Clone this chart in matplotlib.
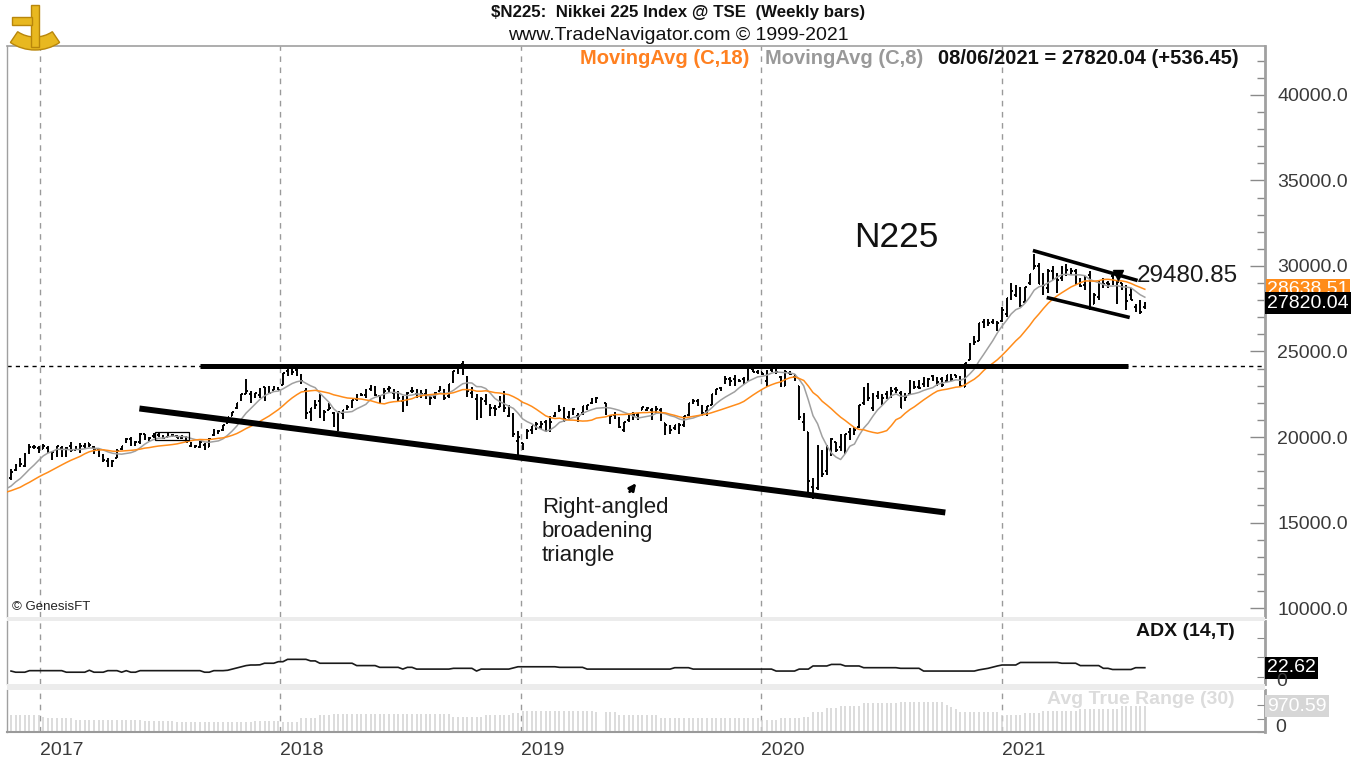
import matplotlib
matplotlib.use("Agg")
import matplotlib.pyplot as plt
import matplotlib.dates as mdates
import matplotlib.transforms as mtransforms
from matplotlib.patches import Rectangle, Wedge
from matplotlib.ticker import MultipleLocator
import pandas as pd
import numpy as np

plt.rcParams['font.family'] = ['Liberation Sans', 'DejaVu Sans']

W, H = 1360, 761

# ---------------- data ----------------
# closes before the first visible bar (Jul 15 - Nov 11 2016), used to seed the moving averages
warmup_close = [16497, 16627, 16569, 16254, 16920, 16546, 16361, 16926, 16965, 16519,
                16754, 16450, 16860, 16856, 17185, 17446, 16905, 17374]

# weekly bars (open, high, low, close)
ohlc_2016 = [
    (17600, 18110, 17480, 17968), (18060, 18450, 17990, 18381), (18390, 18746, 18230, 18427),
    (18280, 19050, 18250, 18997), (19160, 19592, 19000, 19401), (19390, 19520, 19300, 19428),
    (19380, 19470, 19050, 19114),
]
ohlc_2017 = [
    (19298, 19615, 19280, 19454), (19360, 19470, 19040, 19287), (19040, 19200, 18650, 19137),
    (18980, 19470, 18820, 19467), (19380, 19460, 18830, 18918), (18970, 19400, 18810, 19379),
    (19460, 19680, 19140, 19235), (19250, 19450, 19230, 19284), (19280, 19670, 19040, 19469),
    (19480, 19650, 19320, 19605), (19630, 19670, 19400, 19522), (19400, 19460, 19000, 19263),
    (19300, 19340, 18850, 18909), (18920, 18990, 18520, 18665), (18610, 18790, 18220, 18336),
    (18280, 18630, 18220, 18621), (18790, 19290, 18780, 19197), (19280, 19460, 19250, 19446),
    (19800, 19960, 19670, 19884), (19880, 19990, 19450, 19591), (19640, 19750, 19470, 19687),
    (19680, 20240, 19600, 20178), (20150, 20180, 19830, 20013), (19840, 20010, 19780, 19943),
    (20060, 20230, 19960, 20133), (20130, 20240, 19990, 20033), (20050, 20100, 19890, 19930),
    (20000, 20240, 19980, 20119), (20100, 20170, 19990, 20100), (20030, 20120, 19920, 19960),
    (19950, 20130, 19910, 20030), (20020, 20050, 19700, 19730), (19480, 19730, 19420, 19470),
    (19400, 19560, 19340, 19453), (19440, 19740, 19340, 19692), (19550, 19650, 19240, 19275),
    (19430, 19940, 19410, 19910), (20090, 20480, 20030, 20296), (20290, 20400, 20200, 20356),
    (20410, 20710, 20380, 20691), (20820, 21160, 20820, 21155), (21210, 21480, 21200, 21458),
    (21690, 22010, 21640, 22008), (22170, 22540, 22100, 22539), (22540, 23380, 22500, 22681),
    (22540, 22690, 21970, 22397), (22340, 22560, 22300, 22551), (22450, 22870, 22300, 22819),
    (22920, 22940, 22120, 22811), (22940, 22990, 22560, 22553), (22750, 22960, 22740, 22903),
    (22880, 22920, 22750, 22765),
]
ohlc_2018 = [
    (23070, 23730, 23070, 23715), (23850, 23950, 23590, 23654), (23790, 24080, 23600, 23808),
    (23900, 24130, 23580, 23632), (23580, 23710, 23090, 23275), (22700, 22860, 21080, 21383),
    (21470, 21720, 20950, 21720), (21890, 22150, 21640, 21893), (22100, 22500, 21100, 21182),
    (21060, 21600, 20940, 21469), (21600, 21970, 21550, 21677), (21400, 21490, 20600, 20618),
    (20500, 21480, 20350, 21454), (21390, 21600, 21030, 21568), (21700, 21870, 21600, 21779),
    (21750, 22190, 21700, 22163), (22200, 22500, 22090, 22468), (22450, 22550, 22400, 22473),
    (22480, 22800, 22300, 22758), (22830, 23050, 22690, 22930), (22930, 23010, 22400, 22451),
    (22400, 22480, 21930, 22171), (22300, 22880, 22230, 22695), (22800, 22970, 22600, 22852),
    (22600, 22800, 22250, 22517), (22600, 22700, 22130, 22305), (22100, 22400, 21460, 21788),
    (21870, 22620, 21830, 22597), (22700, 22950, 22580, 22698), (22490, 22830, 22300, 22713),
    (22660, 22720, 22300, 22525), (22520, 22800, 22240, 22298), (22000, 22410, 21850, 22270),
    (22320, 22640, 22250, 22602), (22700, 22970, 22690, 22865), (22690, 22790, 22170, 22307),
    (22380, 23120, 22300, 23095), (23250, 23880, 23150, 23870), (23930, 24290, 23700, 24120),
    (24250, 24450, 23600, 23784), (23500, 23590, 22320, 22695), (22570, 22900, 22260, 22532),
    (22250, 22530, 20970, 21185), (21190, 22350, 21090, 22244), (22120, 22500, 21900, 22250),
    (21820, 21940, 21240, 21680), (21710, 21860, 21240, 21647), (21780, 22380, 21730, 22351),
    (22570, 22700, 21470, 21679), (21220, 21880, 21150, 21375), (21350, 21410, 20000, 20166),
    (19790, 20330, 18950, 20015),
]
ohlc_2019 = [
    (19660, 19660, 19240, 19562), (19940, 20490, 19900, 20360), (20400, 20670, 20200, 20666),
    (20700, 20890, 20400, 20774), (20600, 20950, 20460, 20788), (20850, 20980, 20320, 20333),
    (20400, 21200, 20300, 20901), (21200, 21460, 21150, 21426), (21500, 21860, 21450, 21603),
    (21650, 21730, 20900, 21025), (21150, 21530, 21000, 21451), (21500, 21700, 21300, 21627),
    (21200, 21400, 20900, 21206), (21400, 21830, 21300, 21807), (21700, 21900, 21570, 21871),
    (22000, 22300, 21950, 22200), (22250, 22360, 22000, 22259), (22000, 22000, 21260, 21345),
    (21000, 21300, 20750, 21250), (21300, 21450, 21050, 21117), (21000, 21190, 20550, 20601),
    (20400, 20900, 20290, 20885), (21000, 21260, 20900, 21117), (21100, 21490, 20970, 21259),
    (21300, 21400, 20990, 21276), (21600, 21780, 21550, 21746), (21600, 21750, 21500, 21686),
    (21600, 21700, 20990, 21467), (21500, 21820, 21400, 21658), (21600, 21700, 20960, 21088),
    (20800, 20800, 20110, 20685), (20500, 20700, 20180, 20419), (20550, 20730, 20400, 20711),
    (20250, 20800, 20170, 20704), (20700, 21230, 20600, 21200), (21300, 22000, 21250, 21988),
    (22000, 22250, 21950, 22079), (22100, 22200, 21800, 21879), (21700, 21900, 21250, 21410),
    (21500, 21810, 21200, 21799), (21900, 22520, 21900, 22493), (22500, 22820, 22450, 22800),
    (22850, 22950, 22700, 22851), (23200, 23590, 23100, 23392), (23400, 23500, 23000, 23303),
    (23400, 23600, 23000, 23113), (23300, 23420, 23200, 23294), (23400, 23520, 23100, 23355),
    (23400, 24060, 23300, 24023), (23950, 24090, 23800, 23817), (23830, 23930, 23700, 23838),
]
ohlc_2020 = [
    (23800, 23810, 23650, 23657), (23300, 23900, 22950, 23851), (23900, 24120, 23800, 24041),
    (24000, 24120, 23700, 23827), (23500, 23550, 22900, 23205), (23000, 23900, 22970, 23828),
    (23750, 23870, 23600, 23688), (23500, 23700, 23300, 23387), (23000, 23000, 21000, 21143),
    (20900, 21400, 20350, 20750), (20300, 20300, 16700, 17431), (17100, 17600, 16358, 16553),
    (17000, 19560, 16900, 19389), (19000, 19250, 17650, 17820), (18000, 19500, 17800, 19499),
    (19300, 19930, 18900, 19897), (19700, 19700, 19100, 19262), (19400, 20200, 19200, 19619),
    (19200, 20200, 19000, 20179), (20300, 20500, 19800, 20037), (20200, 20600, 20100, 20388),
    (20600, 21900, 20500, 21878), (22000, 22900, 21900, 22864), (23100, 23180, 22100, 22305),
    (21700, 22600, 21500, 22478), (22400, 22700, 22200, 22512), (22000, 22500, 21900, 22306),
    (22500, 22700, 22200, 22291), (22500, 22900, 22300, 22696), (22800, 22900, 22600, 22751),
    (22600, 22700, 21700, 21710), (22200, 22600, 22100, 22329), (22500, 23340, 22450, 23289),
    (23200, 23300, 22800, 22920), (22900, 23350, 22800, 22882), (23100, 23500, 22950, 23205),
    (23000, 23450, 22900, 23406), (23550, 23600, 23300, 23360), (23400, 23500, 23000, 23205),
    (23400, 23500, 22950, 23030), (23300, 23650, 23200, 23620), (23600, 23700, 23300, 23411),
    (23600, 23650, 23450, 23517), (23500, 23550, 22950, 22977), (22900, 24330, 22900, 24325),
    (24500, 25500, 24500, 25385), (25600, 25900, 25400, 25527), (25600, 26650, 25600, 26645),
    (26700, 26900, 26400, 26751), (26800, 26900, 26500, 26652), (26700, 26900, 26600, 26763),
    (26500, 26800, 26200, 26656),
]
ohlc_2021 = [
    (26800, 27600, 26750, 27444), (27200, 28140, 27000, 28139), (28100, 28980, 28000, 28519),
    (28300, 28860, 28200, 28631), (28700, 28800, 27600, 27663), (27900, 28800, 27900, 28779),
    (29000, 29550, 28900, 29520), (29800, 30710, 29800, 30018), (30000, 30200, 28950, 28966),
    (29300, 29600, 28300, 28864), (28700, 29800, 28400, 29717), (29700, 30000, 29200, 29792),
    (29500, 29600, 28400, 29177), (29300, 30000, 29100, 29854), (29900, 30100, 29400, 29768),
    (29600, 29900, 29500, 29683), (29700, 29800, 28900, 29021), (28900, 29300, 28800, 28813),
    (28900, 29400, 28600, 29358), (29500, 29700, 27400, 28084), (27800, 28400, 27800, 28318),
    (28200, 29200, 28000, 29149), (29000, 29300, 28700, 28942), (29000, 29100, 28700, 28949),
    (29400, 29500, 28900, 28964), (28000, 29100, 27800, 29066), (29000, 29000, 28600, 28783),
    (28800, 28900, 27400, 27940), (28300, 28700, 28000, 28003), (27600, 27800, 27300, 27548.55),
    (27700, 28000, 27200, 27283.59), (27600, 27900, 27500, 27820.04),
]

# ADX (14,T) weekly values
adx_2016 = [14, 11, 11, 11, 15, 15, 15]
adx_2017 = [15, 15, 15, 15, 15, 11, 11, 11, 11, 11, 16, 11, 11, 11, 15, 15, 15, 11, 15, 11,
            11, 15, 15, 15, 15, 15, 15, 15, 15, 15, 15, 15, 15, 15, 15, 11, 11, 15, 15, 15,
            16, 19, 22, 25, 28, 29.5, 29.5, 30, 34, 34, 34, 38]
adx_2018 = [38, 44, 44, 44, 44, 44, 40, 40, 34, 34, 34, 34, 34, 34, 34, 34, 28, 28, 28, 28,
            28, 23.5, 23.5, 23.5, 23.5, 23.5, 19, 23.5, 23.5, 19, 19, 19, 19, 19, 19, 19, 19,
            21, 21, 21, 21, 21, 14, 19, 19, 19, 19, 19, 19, 19, 22, 25]
adx_2019 = [25, 25, 25, 25, 25, 25, 25, 25, 23.5, 23.5, 23.5, 23.5, 23.5, 23.5, 19, 19, 19,
            19, 19, 19, 19, 19, 19, 19, 19, 19, 19, 19, 19, 19, 19, 19, 22.6, 22.6, 22.6, 22.6,
            19, 19, 19, 19, 19, 19, 19, 19, 19, 19, 19, 19, 19, 19, 19]
adx_2020 = [19, 19, 19, 14, 14, 14, 14, 14, 19, 19, 19, 27, 27, 27, 27, 31, 31, 31, 27, 27,
            27, 27, 22.6, 22.6, 22.6, 22.6, 22.6, 22.6, 22.6, 22.6, 21, 21, 21, 21, 21, 14, 14,
            14, 14, 14, 14, 14, 14, 14, 14, 14, 14, 17, 19, 21, 24, 27]
adx_2021 = [29.5, 29.5, 29.5, 29.5, 36, 36, 36, 36, 36, 36, 36, 36, 36, 34, 34, 34, 34, 28,
            28, 28, 28, 28, 21, 21, 18, 18, 18, 18, 18, 22.6, 22.6, 22.62]

# Avg True Range (30) weekly values
atr_2016 = [640, 640, 635, 635, 635, 630, 625]
atr_2017 = [560, 540, 530, 520, 520, 515, 510, 455, 450, 450, 450, 450, 450, 450, 450, 450,
            450, 450, 450, 450, 450, 450, 420, 410, 410, 410, 410, 410, 410, 360, 360, 360,
            360, 360, 360, 360, 360, 360, 360, 360, 360, 360, 360, 360, 360, 360, 410, 410,
            410, 410, 410, 410]
atr_2018 = [385, 385, 385, 385, 510, 510, 510, 510, 635, 635, 635, 660, 660, 660, 660, 660,
            660, 660, 660, 660, 660, 660, 660, 660, 660, 660, 660, 660, 660, 660, 660, 660,
            660, 660, 660, 660, 660, 570, 570, 570, 570, 570, 570, 570, 635, 635, 635, 635,
            635, 635, 720, 720]
atr_2019 = [785, 785, 785, 785, 785, 785, 785, 785, 785, 785, 785, 785, 785, 785, 785, 785,
            735, 735, 735, 735, 640, 640, 640, 640, 640, 640, 640, 640, 640, 510, 510, 510,
            510, 510, 510, 510, 510, 510, 510, 510, 510, 510, 510, 510, 510, 510, 510, 510,
            510, 510, 510]
atr_2020 = [450, 450, 450, 450, 510, 510, 510, 510, 510, 570, 570, 760, 760, 760, 885, 885,
            885, 980, 980, 980, 980, 980, 1070, 1070, 1070, 1070, 1070, 1070, 1070, 1070, 1130,
            1130, 1130, 1130, 1130, 1130, 1130, 1130, 1130, 1130, 1000, 920, 860, 735, 735, 735,
            735, 735, 735, 735, 735, 735]
atr_2021 = [640, 640, 640, 640, 640, 700, 700, 700, 700, 785, 785, 785, 785, 785, 785, 785,
            785, 860, 860, 860, 860, 860, 860, 860, 860, 860, 980, 970, 970, 970, 970, 970.59]

# hand-drawn chart annotations (dates, price levels)
resist_dates = ['2017-09-01', '2021-07-11']
resist_vals = [24180, 24180]
support_dates = ['2017-06-01', '2020-10-07']
support_vals = [21667, 15585]
chan_up_dates = ['2021-02-17', '2021-07-26']
chan_up_vals = [30906, 29152]
chan_lo_dates = ['2021-03-10', '2021-07-14']
chan_lo_vals = [28158, 26988]
flag_box = ('2017-06-24', '2017-08-16', 19800, 20265)
marker_date, marker_val = '2021-06-26', 29480.85
arrow_tail = ('2019-06-13', 16670)
arrow_head = ('2019-06-28', 17430)
years = [2017, 2018, 2019, 2020, 2021]

# ---------------- assemble ----------------
ohlc = ohlc_2016 + ohlc_2017 + ohlc_2018 + ohlc_2019 + ohlc_2020 + ohlc_2021
adx = adx_2016 + adx_2017 + adx_2018 + adx_2019 + adx_2020 + adx_2021
atr = atr_2016 + atr_2017 + atr_2018 + atr_2019 + atr_2020 + atr_2021

fridays = pd.date_range('2016-11-18', '2021-08-06', freq='W-FRI')
dates = fridays[fridays != pd.Timestamp('2019-05-03')]
warm_dates = pd.date_range('2016-07-15', '2016-11-11', freq='W-FRI')

n = min(len(dates), len(ohlc))
x = mdates.date2num(dates[:n])
o = np.array([b[0] for b in ohlc[:n]], float)
hi = np.array([b[1] for b in ohlc[:n]], float)
lo = np.array([b[2] for b in ohlc[:n]], float)
c = np.array([b[3] for b in ohlc[:n]], float)

d = mdates.date2num
def dn(s):
    return d(pd.Timestamp(s))

# ---------------- figure ----------------
fig = plt.figure(figsize=(13.6, 7.61), dpi=100)
fig.patch.set_facecolor('white')

def rect(x0, y0, x1, y1):
    return [x0 / W, 1 - y1 / H, (x1 - x0) / W, (y1 - y0) / H]

ax = fig.add_axes(rect(7, 46, 1265, 617))
ax_adx = fig.add_axes(rect(7, 621, 1265, 684))
ax_atr = fig.add_axes(rect(7, 690, 1265, 732))

xl = (dn('2017-01-01') - 50.1, dn('2021-01-01') + 399.5)
grid_c = '#9a9a9a'
for a in (ax, ax_adx, ax_atr):
    a.set_xlim(*xl)
    a.set_facecolor('white')
    for yr in years:
        a.axvline(dn(f'{yr}-01-01'), color=grid_c, lw=1, ls=(0, (4, 4)), zorder=0)
    for s in a.spines.values():
        s.set_color('#a0a0a0')
    a.spines['right'].set_linewidth(2)
    a.spines['left'].set_linewidth(1)
    a.yaxis.tick_right()
    a.tick_params(axis='x', which='both', bottom=False, labelbottom=False)

# separator bands
for (y0, y1) in [(617, 621), (684, 690)]:
    fig.add_artist(Rectangle((7 / W, 1 - y1 / H), 1258 / W, (y1 - y0) / H,
                             transform=fig.transFigure, color='#ececec', lw=0))

# ---- price panel ----
ax.set_ylim(9474, 42865)
ax.spines['bottom'].set_visible(False)
ax.spines['top'].set_linewidth(1.2)
tick = 2.4
ax.vlines(x, lo, hi, color='black', lw=1.4, zorder=3)
ax.hlines(o, x - tick, x, color='black', lw=1.4, zorder=3)
ax.hlines(c, x, x + tick, color='black', lw=1.4, zorder=3)

closes_all = np.concatenate([np.array(warmup_close, float), c])
x_all = np.concatenate([d(warm_dates), x])
ma18 = pd.Series(closes_all).rolling(18).mean().values
ma8 = pd.Series(closes_all).rolling(8).mean().values
ax.plot(x_all, ma8, color='#a0a0a0', lw=1.1, zorder=4)
ax.plot(x_all, ma18, color='#ff8c1a', lw=1.1, zorder=4)

ax.set_yticks(list(range(10000, 40001, 5000)))
ax.set_yticklabels([f'{v:.1f}' for v in range(10000, 40001, 5000)])
ax.yaxis.set_minor_locator(MultipleLocator(1000))
ax.tick_params(axis='y', which='major', direction='in', length=11, width=1,
               color='#8a8a8a', labelsize=14, labelcolor='#3a3a3a', pad=9)
ax.tick_params(axis='y', which='minor', direction='in', length=6, width=1, color='#8a8a8a')

# annotations
ax.axhline(resist_vals[0], color='black', lw=1, ls=(0, (3, 3)), zorder=2)
ax.plot([dn(s) for s in resist_dates], resist_vals, color='black', lw=3.6,
        solid_capstyle='butt', zorder=5)
ax.plot([dn(s) for s in support_dates], support_vals, color='black', lw=4.3,
        solid_capstyle='butt', zorder=5)
ax.plot([dn(s) for s in chan_up_dates], chan_up_vals, color='black', lw=2.6,
        solid_capstyle='butt', zorder=5)
ax.plot([dn(s) for s in chan_lo_dates], chan_lo_vals, color='black', lw=2.6,
        solid_capstyle='butt', zorder=5)
fb0, fb1, fbl, fbh = flag_box
ax.add_patch(Rectangle((dn(fb0), fbl), dn(fb1) - dn(fb0), fbh - fbl, fill=False,
                       ec='black', lw=0.9, zorder=5))
ax.plot([dn(marker_date)], [marker_val], marker='v', color='black', ms=7, zorder=6)
ax.annotate('', xy=(dn(arrow_head[0]), arrow_head[1]),
            xytext=(dn(arrow_tail[0]), arrow_tail[1]),
            arrowprops=dict(arrowstyle='-|>', color='black', lw=2, mutation_scale=10),
            zorder=6)

def ftext(px, py, s, **kw):
    fig.text(px / W, 1 - py / H, s, **kw)

ftext(1137, 276, '29480.85', fontsize=17.5, va='center', ha='left', color='#1a1a1a')
ftext(854, 237, 'N225', fontsize=25.5, va='center', ha='left', color='#111111')
ftext(542, 497, 'Right-angled\nbroadening\ntriangle', fontsize=16, va='top', ha='left',
      linespacing=1.2, color='#1a1a1a')
ftext(12, 607, '\u00a9 GenesisFT', fontsize=9.5, va='center', ha='left', color='#222222')

# value boxes on right
ytr = mtransforms.blended_transform_factory(ax.transAxes, ax.transData)
ma18_last = ma18[-1]
ax.text(1.0017, ma18_last, f'{ma18_last:.2f}', transform=ytr, fontsize=14, color='white',
        va='center', ha='left', clip_on=False, zorder=7,
        bbox=dict(boxstyle='square,pad=0.08', fc='#ff8c1a', ec='none'))
ax.text(1.0017, c[-1], f'{c[-1]:.2f}', transform=ytr, fontsize=14, color='white',
        va='center', ha='left', clip_on=False, zorder=8,
        bbox=dict(boxstyle='square,pad=0.12', fc='black', ec='none'))

# header
ftext(678, 13, '$N225:  Nikkei 225 Index @ TSE  (Weekly bars)', fontsize=12.2,
      fontweight='bold', ha='center', va='center', color='#111111')
ftext(678, 36, 'www.TradeNavigator.com \u00a9 1999-2021', fontsize=14, ha='center',
      va='center', color='#111111')
ftext(580, 59, 'MovingAvg (C,18)', fontsize=14.5, fontweight='bold', ha='left',
      va='center', color='#ff8020')
ftext(765, 59, 'MovingAvg (C,8)', fontsize=14.5, fontweight='bold', ha='left',
      va='center', color='#999999')
chg = c[-1] - c[-2]
ftext(938, 59, f'{dates[n-1]:%m/%d/%Y} = {c[-1]:.2f} ({chg:+.2f})', fontsize=14.5,
      fontweight='bold', ha='left', va='center', color='#111111')

# logo (simple sextant shape)
idt = mtransforms.IdentityTransform()
gold, dgold = '#e8b820', '#b8860b'
fig.add_artist(Wedge((35, 761 - 6), 44, 236, 304, width=13, transform=idt,
                     fc=gold, ec=dgold, lw=1))
fig.add_artist(Rectangle((31, 761 - 47), 8, 42, transform=idt, fc=gold, ec=dgold, lw=1))
fig.add_artist(Rectangle((12, 761 - 25), 20, 8, transform=idt, fc=gold, ec=dgold, lw=1))

# ---- ADX panel ----
na = min(len(x), len(adx))
ax_adx.plot(x[:na], adx[:na], color='#1a1a1a', lw=1.2, zorder=3)
ax_adx.set_ylim(-19.2, 142.3)
ax_adx.spines['top'].set_visible(False)
ax_adx.spines['bottom'].set_visible(False)
ax_adx.set_yticks([0, 50, 100])
ax_adx.set_yticklabels(['', '', ''])
ax_adx.tick_params(axis='y', direction='in', length=6, color='#8a8a8a')
ftext(1276, 681, '0', fontsize=14, ha='left', va='center', color='#3a3a3a')
ftext(1235, 632, 'ADX (14,T)', fontsize=14, fontweight='bold', ha='right', va='center',
      color='#111111')
ytr2 = mtransforms.blended_transform_factory(ax_adx.transAxes, ax_adx.transData)
ax_adx.text(1.0017, adx[na - 1], f'{adx[na-1]:.2f}', transform=ytr2, fontsize=14,
            color='white', va='center', ha='left', clip_on=False, zorder=8,
            bbox=dict(boxstyle='square,pad=0.12', fc='black', ec='none'))

# ---- ATR panel ----
nt = min(len(x), len(atr))
ax_atr.vlines(x[:nt], 0, atr[:nt], color='#d2d2d2', lw=1.1, zorder=2)
ax_atr.set_ylim(0, 1568)
ax_atr.spines['top'].set_visible(False)
ax_atr.spines['bottom'].set_linestyle((0, (1, 1)))
ax_atr.spines['bottom'].set_linewidth(1.5)
ax_atr.spines['bottom'].set_color('#9a9a9a')
ax_atr.set_yticks([0, 500, 1000])
ax_atr.set_yticklabels(['', '', ''])
ax_atr.tick_params(axis='y', direction='in', length=6, color='#8a8a8a')
ftext(1275, 728, '0', fontsize=14, ha='left', va='center', color='#3a3a3a')
ftext(1235, 700, 'Avg True Range (30)', fontsize=14, fontweight='bold', ha='right',
      va='center', color='#dcdcdc')
ytr3 = mtransforms.blended_transform_factory(ax_atr.transAxes, ax_atr.transData)
ax_atr.text(1.0017, atr[nt - 1], f'{atr[nt-1]:.2f}', transform=ytr3, fontsize=14,
            color='white', va='center', ha='left', clip_on=False, zorder=8,
            bbox=dict(boxstyle='square,pad=0.12', fc='#d6d6d6', ec='none'))

ax_atr.set_xticks([dn(f'{yr}-01-01') for yr in years])
ax_atr.set_xticklabels([str(yr) for yr in years])
ax_atr.tick_params(axis='x', which='both', bottom=True, labelbottom=True, length=0,
                   labelsize=14, labelcolor='#3a3a3a', pad=7)
for lab in ax_atr.get_xticklabels():
    lab.set_ha('left')

fig.savefig('out.png', dpi=100, facecolor='white')
